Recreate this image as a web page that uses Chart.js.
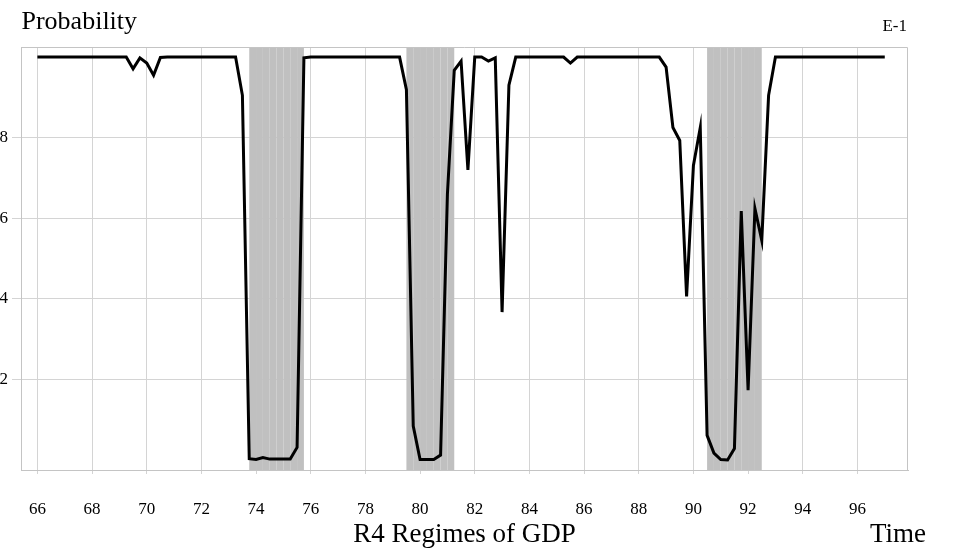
<!DOCTYPE html>
<html><head><meta charset="utf-8">
<script src="https://cdn.jsdelivr.net/npm/chart.js@4.4.1/dist/chart.umd.min.js"></script>
<style>html,body{margin:0;padding:0;background:#fff;}#wrap{width:955px;height:548px;}</style>
</head><body><div id="wrap"><canvas id="c" width="955" height="548"></canvas></div>
<script>
// Quarterly series, 1966Q1 .. 1997Q1
const startYear = 66;
const quarterStep = 0.25;
const probValues = [
  1,1,1,1, 1,1,1,1, 1,1,1,1, 1,1,            // 66.00 - 69.25
  0.971,0.998,0.985,0.955,0.999,             // 69.50 - 70.50
  1,1,1,1, 1,1,1,1, 1,1,1,                    // 70.75 - 73.25
  0.905,                                      // 73.50
  0.003,0.001,0.006,0.002,0.002,0.002,0.002,0.031, // 73.75 - 75.50
  0.998,                                      // 75.75
  1,1,1,1, 1,1,1,1, 1,1,1,1, 1,1,             // 76.00 - 79.25
  0.919,                                      // 79.50
  0.084,0.001,0.001,0.001,0.012,              // 79.75 - 80.75
  0.66,0.967,0.99,0.72,1,1,0.99,0.998,0.367,0.93,1, // 81.00 - 83.50
  1,1,1,1,1,1,1,                              // 83.75 - 85.25
  0.985,                                      // 85.50
  1,1,1,1, 1,1,1,1, 1,1,1,1, 1,               // 85.75 - 88.75
  0.975,0.825,0.793,0.406,0.731,0.825,0.061,0.017,
  0.001,0.0,0.028,0.618,0.173,0.624,0.545,0.905, // 89.00 - 92.75
  1,1,1,1, 1,1,1,1, 1,1,1,1, 1,1,1,1, 1       // 93.00 - 97.00
];
const xTickValues = [66,68,70,72,74,76,78,80,82,84,86,88,90,92,94,96];
const yTickValues = [0.2,0.4,0.6,0.8];
const regimeStart = [73.75, 79.5, 90.5];
const regimeEnd   = [75.75, 81.25, 92.5];

const quarters = probValues.map((_, i) => startYear + i * quarterStep);
const points = quarters.map((t, i) => ({x: t, y: probValues[i]}));

const FONT = "'Liberation Serif','Times New Roman',serif";

const shadePlugin = {
  id: 'shade',
  beforeDatasetsDraw(chart) {
    const {ctx, chartArea: a, scales: {x}} = chart;
    ctx.save();
    ctx.fillStyle = '#c0c0c0';
    for (let r = 0; r < regimeStart.length; r++) {
      for (let q = regimeStart[r]; q < regimeEnd[r] - 1e-6; q += quarterStep) {
        const x0 = x.getPixelForValue(q);
        const x1 = x.getPixelForValue(q + quarterStep);
        ctx.fillRect(x0, a.top, x1 - x0, a.bottom - a.top);
      }
    }
    // frame top & right
    ctx.strokeStyle = '#c4c4c4';
    ctx.lineWidth = 1;
    ctx.beginPath();
    const t = Math.round(a.top) + 0.5, r = Math.round(a.right) - 0.5;
    ctx.moveTo(a.left, t); ctx.lineTo(r, t); ctx.lineTo(r, a.bottom);
    ctx.stroke();
    ctx.restore();
  },
  afterDraw(chart) {
    const {ctx, chartArea: a} = chart;
    ctx.save();
    ctx.fillStyle = '#000';
    ctx.textBaseline = 'alphabetic';
    ctx.font = "26px " + FONT;
    ctx.textAlign = 'left';
    ctx.fillText('Probability', 21.5, 28.5);
    ctx.font = "27px " + FONT;
    ctx.fillText('Time', 870, 542);
    ctx.font = "17px " + FONT;
    ctx.textAlign = 'right';
    ctx.fillText('E-1', a.right - 1, 30.5);
    ctx.restore();
  }
};

new Chart(document.getElementById('c'), {
  type: 'line',
  data: {
    datasets: [{
      data: points,
      borderColor: '#000',
      borderWidth: 3,
      pointRadius: 0,
      tension: 0,
      fill: false
    }]
  },
  options: {
    responsive: false,
    animation: false,
    devicePixelRatio: 1,
    layout: {padding: {top: 47, right: 47, left: 0, bottom: 0}},
    plugins: {legend: {display: false}, tooltip: {enabled: false}, title: {display: false}},
    scales: {
      x: {
        type: 'linear', min: 65.4, max: 97.85,
        afterBuildTicks: s => { s.ticks = xTickValues.map(v => ({value: v})); },
        afterFit: s => { s.height = 78; },
        grid: {color: '#d4d4d4', lineWidth: 1, tickLength: 4},
        border: {color: '#c4c4c4', width: 1},
        ticks: {padding: 25, font: {family: FONT, size: 17}, color: '#000', maxRotation: 0, autoSkip: false,
                callback: v => String(v)},
        title: {display: true, text: 'R4 Regimes of GDP', color: '#000',
                font: {family: FONT, size: 27, lineHeight: 1.0}, padding: {top: 0, bottom: 0}}
      },
      y: {
        min: -0.025, max: 1.025,
        afterBuildTicks: s => { s.ticks = yTickValues.map(v => ({value: v})); },
        afterFit: s => { s.width = 21; },
        grid: {color: '#d4d4d4', lineWidth: 1, tickLength: 9},
        border: {color: '#c4c4c4', width: 1},
        ticks: {padding: 4, font: {family: FONT, size: 17}, color: '#000',
                callback: v => Number(v).toFixed(1)}
      }
    }
  },
  plugins: [shadePlugin]
});
</script>
</body></html>
